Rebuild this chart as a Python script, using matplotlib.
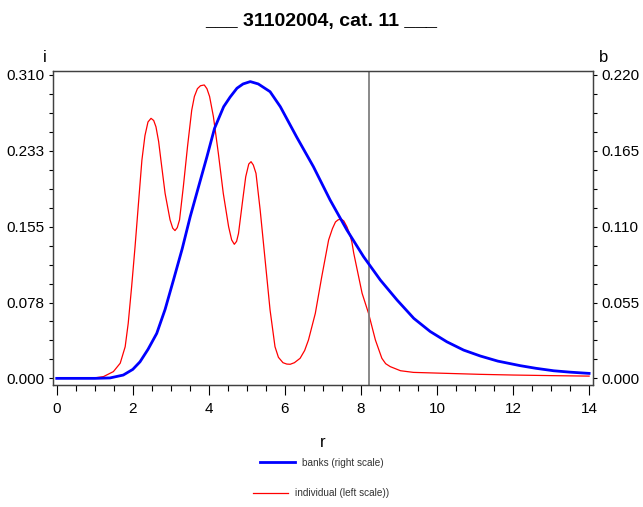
import matplotlib
matplotlib.use('Agg')
import matplotlib.pyplot as plt
from matplotlib.ticker import AutoMinorLocator, FixedLocator, FixedFormatter
from matplotlib.lines import Line2D

plt.rcParams['font.family'] = ['Liberation Sans', 'DejaVu Sans']

# individual (left scale)
red_x = [0.0, 0.5, 1.0, 1.23, 1.49, 1.67, 1.80, 1.88, 1.97, 2.06, 2.15, 2.24, 2.32,
         2.40, 2.48, 2.55, 2.61, 2.68, 2.74, 2.85, 2.98, 3.05, 3.11, 3.17, 3.23,
         3.33, 3.44, 3.55, 3.62, 3.70, 3.78, 3.88, 3.95, 4.02, 4.12, 4.25, 4.38,
         4.52, 4.60, 4.67, 4.73, 4.78, 4.89, 4.97, 5.05, 5.11, 5.17, 5.24, 5.35,
         5.48, 5.61, 5.74, 5.83, 5.95, 6.05, 6.14, 6.25, 6.40, 6.52, 6.62, 6.80,
         6.97, 7.15, 7.25, 7.33, 7.40, 7.48, 7.55, 7.63, 7.70, 7.76, 7.81, 8.03,
         8.20, 8.38, 8.55, 8.65, 8.77, 9.04, 9.38, 10.26, 11.14, 12.0, 13.0, 14.0]
red_y = [0.0, 0.0, 0.0005, 0.0018, 0.0069, 0.0155, 0.0323, 0.0562, 0.0937, 0.1346,
         0.1789, 0.223, 0.248, 0.262, 0.2657, 0.2635, 0.257, 0.242, 0.223, 0.189,
         0.162, 0.1535, 0.151, 0.154, 0.162, 0.196, 0.237, 0.274, 0.288, 0.296,
         0.2990, 0.2998, 0.296, 0.288, 0.2675, 0.230, 0.189, 0.155, 0.1415, 0.137,
         0.140, 0.148, 0.182, 0.206, 0.219, 0.2214, 0.218, 0.2095, 0.172, 0.121,
         0.0699, 0.0323, 0.0215, 0.0160, 0.0146, 0.0144, 0.0160, 0.0205, 0.0285,
         0.0392, 0.0664, 0.104, 0.1414, 0.153, 0.1598, 0.1620, 0.1628, 0.1608,
         0.155, 0.148, 0.1396, 0.128, 0.087, 0.0664, 0.0392, 0.0205, 0.0150, 0.012,
         0.0078, 0.0061, 0.0051, 0.0041, 0.0034, 0.0028, 0.0023]

# banks (right scale)
blue_x = [0.0, 0.5, 1.0, 1.4, 1.75, 2.0, 2.19, 2.4, 2.63, 2.85, 3.07, 3.3, 3.51,
          3.73, 3.95, 4.15, 4.39, 4.56, 4.74, 4.9, 5.09, 5.3, 5.61, 5.88, 6.14,
          6.31, 6.75, 7.19, 7.63, 8.07, 8.51, 8.95, 9.39, 9.82, 10.26, 10.7, 11.14,
          11.6, 12.19, 12.6, 13.07, 13.5, 14.0]
blue_y = [0.0, 0.0, 0.0, 0.0003, 0.0024, 0.0065, 0.012, 0.021, 0.0326, 0.050, 0.0713,
          0.094, 0.1172, 0.139, 0.1607, 0.1813, 0.197, 0.204, 0.2104, 0.2135, 0.2152,
          0.2135, 0.2079, 0.197, 0.1837, 0.175, 0.1535, 0.1293, 0.1076, 0.0882,
          0.0713, 0.0568, 0.0435, 0.034, 0.0265, 0.0205, 0.0162, 0.0125, 0.0092,
          0.0073, 0.0055, 0.0045, 0.0036]

left_ticks = [0.0, 0.0775, 0.155, 0.2325, 0.31]
left_labels = ['0.000', '0.078', '0.155', '0.233', '0.310']
right_ticks = [0.0, 0.055, 0.11, 0.165, 0.22]
right_labels = ['0.000', '0.055', '0.110', '0.165', '0.220']
x_ticks = [0, 2, 4, 6, 8, 10, 12, 14]
ref_r = 8.2

fig = plt.figure(figsize=(6.43, 5.07), dpi=100)
ax = fig.add_axes([0.082, 0.2406, 0.8407, 0.62])
ax2 = ax.twinx()

ax.plot(red_x, red_y, color='red', lw=0.9)
ax2.plot(blue_x, blue_y, color='blue', lw=2.0)
ax.axvline(ref_r, color='#808080', lw=1.3)

ax.set_xlim(-0.105, 14.11)
ax.set_ylim(-0.0068, 0.3144)
ax2.set_ylim(-0.0068 * 0.22 / 0.31, 0.3144 * 0.22 / 0.31)

ax.set_xticks(x_ticks)
ax.xaxis.set_minor_locator(AutoMinorLocator(4))
ax.yaxis.set_major_locator(FixedLocator(left_ticks))
ax.yaxis.set_major_formatter(FixedFormatter(left_labels))
ax.yaxis.set_minor_locator(AutoMinorLocator(4))
ax2.yaxis.set_major_locator(FixedLocator(right_ticks))
ax2.yaxis.set_major_formatter(FixedFormatter(right_labels))
ax2.yaxis.set_minor_locator(AutoMinorLocator(4))

ax.tick_params(axis='x', which='major', length=7, width=0.8, labelsize=11, pad=5)
ax.tick_params(axis='x', which='minor', length=4, width=0.8)
ax.tick_params(axis='y', which='both', length=3, width=0.8, labelsize=11, pad=3)
ax2.tick_params(axis='y', which='both', length=3, width=0.8, labelsize=11, pad=3)

for a in (ax, ax2):
    for s in a.spines.values():
        s.set_color('#404040')
        s.set_linewidth(0.9)

ax.set_xlabel('r', fontsize=12, labelpad=14)
fig.text(0.070, 0.887, 'i', fontsize=12, ha='center', va='center')
fig.text(0.938, 0.887, 'b', fontsize=12, ha='center', va='center')
fig.suptitle('___ 31102004, cat. 11 ___', fontsize=14, fontweight='bold', y=0.975)

h_blue = Line2D([], [], color='blue', lw=2.0)
h_red = Line2D([], [], color='red', lw=0.9)
leg1 = fig.legend([h_blue], ['banks (right scale)'], loc='center', bbox_to_anchor=(0.5, 0.087),
                  frameon=False, fontsize=7.2, handlelength=3.5, handletextpad=0.7)
leg2 = fig.legend([h_red], ['individual (left scale))'], loc='center', bbox_to_anchor=(0.5, 0.027),
                  frameon=False, fontsize=7.2, handlelength=3.5, handletextpad=0.7)
for t in leg1.get_texts() + leg2.get_texts():
    t.set_color('#333333')

fig.savefig('out.png', dpi=100)
